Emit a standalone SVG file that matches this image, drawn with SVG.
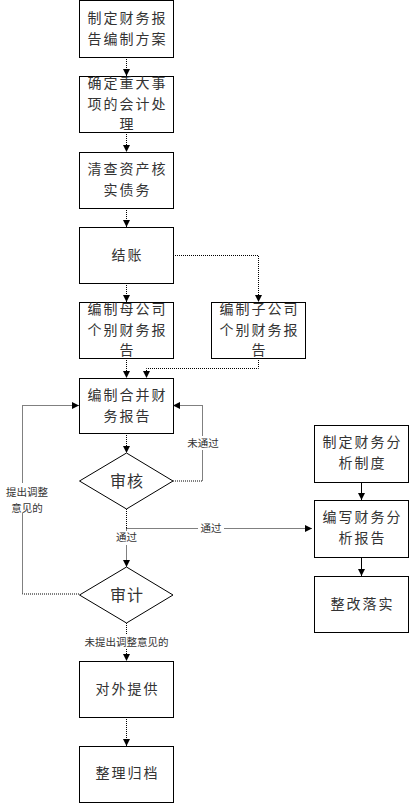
<svg xmlns="http://www.w3.org/2000/svg" width="410" height="804" viewBox="0 0 410 804">
<defs>
<marker id="arr" viewBox="0 0 8 8" refX="8" refY="4" markerWidth="7" markerHeight="7" orient="auto" markerUnits="userSpaceOnUse">
<path d="M0,0 L8,4 L0,8 Z" fill="#000"/>
</marker>
<style>
.box{fill:#fff;stroke:#000;stroke-width:1}
.dia{fill:#fff;stroke:#000;stroke-width:1}
.t{font-family:"Noto Sans CJK SC","Noto Sans CJK JP",sans-serif;font-size:14px;letter-spacing:2px;fill:#333;text-anchor:middle}
.d{font-size:16px;letter-spacing:1px}
.l{font-family:"Noto Sans CJK SC","Noto Sans CJK JP",sans-serif;font-size:10.5px;fill:#333;text-anchor:middle}
.c{fill:none;stroke:#000;stroke-width:1;stroke-dasharray:1,1;marker-end:url(#arr)}
.cs{fill:none;stroke:#000;stroke-width:1;marker-end:url(#arr)}
.cn{fill:none;stroke:#000;stroke-width:1;stroke-dasharray:1,1}
</style>
</defs>
<rect width="410" height="804" fill="#fff"/>
<g id="connectors">
<path class="c" d="M126.5,57 V76"/>
<path class="c" d="M126.5,132 V152"/>
<path class="c" d="M126.5,208 V227"/>
<path class="c" d="M126.5,283 V302"/>
<path class="c" d="M173,255.5 H258.5 V302"/>
<path class="c" d="M126.5,358 V378"/>
<path class="c" d="M258.5,358 V368.5 H146.5 V378"/>
<path class="c" d="M126.5,433 V453"/>
<path class="c" d="M173,481 H202.5 V405.5 H173"/>
<path class="c" d="M79,594 H22.5 V405.5 H79"/>
<path class="cn" d="M126.5,509 V528.5"/>
<path class="c" d="M126.5,528.5 H312"/>
<path class="c" d="M126.5,528.5 V567"/>
<path class="c" d="M126.5,623 V661"/>
<path class="c" d="M126.5,717 V746"/>
<path class="cs" d="M361.5,482 V500"/>
<path class="cs" d="M361.5,557 V576"/>
<rect x="198" y="520" width="26" height="16" fill="#fff"/>
<text class="l" x="211" y="532">通过</text>
<rect x="110" y="531" width="33" height="14" fill="#fff"/>
<text class="l" x="126.5" y="541">通过</text>
<rect x="186" y="436" width="34" height="14" fill="#fff"/>
<text class="l" x="203" y="447">未通过</text>
<rect x="0" y="483" width="56" height="30" fill="#fff"/>
<text class="l" x="27" y="496"><tspan x="27">提出调整</tspan><tspan x="27" dy="16">意见的</tspan></text>
<rect x="82" y="634" width="88" height="14" fill="#fff"/>
<text class="l" x="126.5" y="646">未提出调整意见的</text>
</g>
<g id="n1"><rect class="box" x="79.5" y="0.5" width="94" height="57"/><text class="t" x="127.5" y="23"><tspan x="127.5">制定财务报</tspan><tspan x="127.5" dy="21">告编制方案</tspan></text></g>
<g id="n2"><rect class="box" x="79.5" y="76.5" width="94" height="56"/><text class="t" x="127.5" y="88"><tspan x="127.5">确定重大事</tspan><tspan x="127.5" dy="20.5">项的会计处</tspan><tspan x="127.5" dy="20.5">理</tspan></text></g>
<g id="n3"><rect class="box" x="79.5" y="152.5" width="94" height="56"/><text class="t" x="127.5" y="174"><tspan x="127.5">清查资产核</tspan><tspan x="127.5" dy="21">实债务</tspan></text></g>
<g id="n4"><rect class="box" x="79.5" y="227.5" width="94" height="56"/><text class="t" x="127.5" y="260">结账</text></g>
<g id="n5"><rect class="box" x="79.5" y="302.5" width="94" height="56"/><text class="t" x="127.5" y="314"><tspan x="127.5">编制母公司</tspan><tspan x="127.5" dy="20.5">个别财务报</tspan><tspan x="127.5" dy="20.5">告</tspan></text></g>
<g id="n6"><rect class="box" x="211.5" y="302.5" width="94" height="56"/><text class="t" x="259.5" y="314"><tspan x="259.5">编制子公司</tspan><tspan x="259.5" dy="20.5">个别财务报</tspan><tspan x="259.5" dy="20.5">告</tspan></text></g>
<g id="n7"><rect class="box" x="79.5" y="378.5" width="94" height="55"/><text class="t" x="127.5" y="400"><tspan x="127.5">编制合并财</tspan><tspan x="127.5" dy="21">务报告</tspan></text></g>
<g id="n8"><path class="dia" d="M126.5,453 L173,481 L126.5,509 L79.5,481 Z"/><text class="t d" x="127" y="487">审核</text></g>
<g id="n9"><path class="dia" d="M126.5,567 L173,595 L126.5,623 L79.5,595 Z"/><text class="t d" x="127" y="601">审计</text></g>
<g id="n10"><rect class="box" x="79.5" y="661.5" width="94" height="56"/><text class="t" x="127.5" y="694">对外提供</text></g>
<g id="n11"><rect class="box" x="79.5" y="746.5" width="94" height="56"/><text class="t" x="127.5" y="778">整理归档</text></g>
<g id="n12"><rect class="box" x="314.5" y="425.5" width="94" height="57"/><text class="t" x="362.5" y="447"><tspan x="362.5">制定财务分</tspan><tspan x="362.5" dy="21">析制度</tspan></text></g>
<g id="n13"><rect class="box" x="314.5" y="500.5" width="94" height="57"/><text class="t" x="362.5" y="522"><tspan x="362.5">编写财务分</tspan><tspan x="362.5" dy="21">析报告</tspan></text></g>
<g id="n14"><rect class="box" x="314.5" y="576.5" width="94" height="56"/><text class="t" x="362.5" y="609">整改落实</text></g>
</svg>
